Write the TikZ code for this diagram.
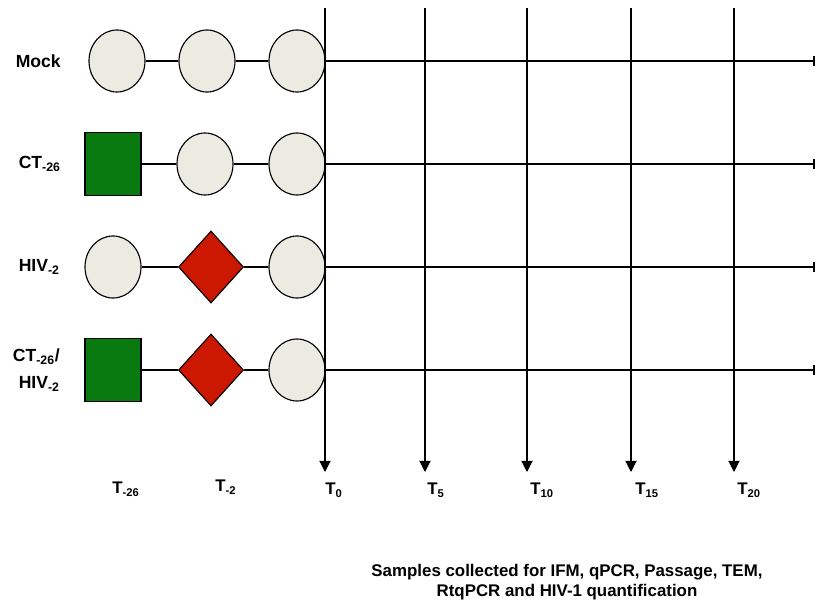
\documentclass[tikz,border=0pt]{standalone}
\usepackage{fontspec}
\setmainfont{Liberation Sans}
\usetikzlibrary{shapes,arrows,arrows.meta,positioning}

\definecolor{wellfill}{RGB}{236,235,225}
\definecolor{ctgreen}{RGB}{8,122,16}
\definecolor{hivred}{RGB}{204,24,0}

\tikzset{
  well/.style={ellipse, draw, line width=0.8pt, fill=wellfill, minimum width=1.4cm, minimum height=1.55cm, inner sep=0pt},
  ctbox/.style={rectangle, draw, line width=0.8pt, fill=ctgreen, minimum width=1.4cm, minimum height=1.575cm, inner sep=0pt},
  hivbox/.style={diamond, draw, line width=0.8pt, fill=hivred, minimum width=1.625cm, minimum height=1.8cm, inner sep=0pt},
  rowlabel/.style={anchor=east, align=right, inner sep=0pt, font=\bfseries\fontsize{12.5}{19}\selectfont},
  timelabel/.style={anchor=north west, inner sep=0pt, font=\bfseries\fontsize{12}{14}\selectfont},
  link/.style={line width=0.8pt},
}

\begin{document}
\begin{tikzpicture}[x=0.025cm, y=-0.025cm]
    \useasboundingbox (0,0) rectangle (818,604);

    % Row labels
    \node[rowlabel] (lmock) at (61,61) {Mock};
    \node[rowlabel] (lct) at (61,164) {CT\textsubscript{-26}};
    \node[rowlabel] (lhiv) at (60,267) {HIV\textsubscript{-2}};
    \node[rowlabel] (lcthiv) at (60,370) {CT\textsubscript{-26}/\\HIV\textsubscript{-2}};

    % Mock row
    \node[well] (m1) at (117,61) {};
    \node[well] (m2) at (207,61) {};
    \node[well] (m3) at (297,61) {};
    \coordinate (mend) at (815,61);

    % CT row
    \node[ctbox] (c1) at (113,164) {};
    \node[well] (c2) at (205,164) {};
    \node[well] (c3) at (297,164) {};
    \coordinate (cend) at (815,164);

    % HIV row
    \node[well] (h1) at (113,267) {};
    \node[hivbox] (h2) at (211,267) {};
    \node[well] (h3) at (297,267) {};
    \coordinate (hend) at (815,267);

    % CT/HIV row
    \node[ctbox] (b1) at (113,370) {};
    \node[hivbox] (b2) at (211,370) {};
    \node[well] (b3) at (297,370) {};
    \coordinate (bend) at (815,370);

    % Time lines
    \foreach \r in {m,c,h,b} {
        \draw[link] (\r1) -- (\r2);
        \draw[link] (\r2) -- (\r3);
        \draw[link, -{Bar[width=7pt,line width=1.6pt]}] (\r3) -- (\r end);
    }

    % Sampling days
    \foreach \x/\lx/\t in {325/325/0, 425/427/5, 527/530/10, 631/635/15, 734/737/20} {
        \coordinate (top\t) at (\x,8);
        \coordinate (tip\t) at (\x,472);
        \node[timelabel] (t\t) at (\lx,483) {T\textsubscript{\t}};
        \draw[link, -{Triangle[width=8pt,length=8pt]}] (top\t) -- (tip\t);
    }

    \node[timelabel] (tm26) at (112,482) {T\textsubscript{-26}};
    \node[timelabel] (tm2) at (215,480) {T\textsubscript{-2}};

    \node[align=center, font=\bfseries\fontsize{12}{14}\selectfont] (samples) at (567,582)
        {Samples collected for IFM, qPCR, Passage, TEM,\\RtqPCR and HIV-1 quantification};
\end{tikzpicture}
\end{document}
